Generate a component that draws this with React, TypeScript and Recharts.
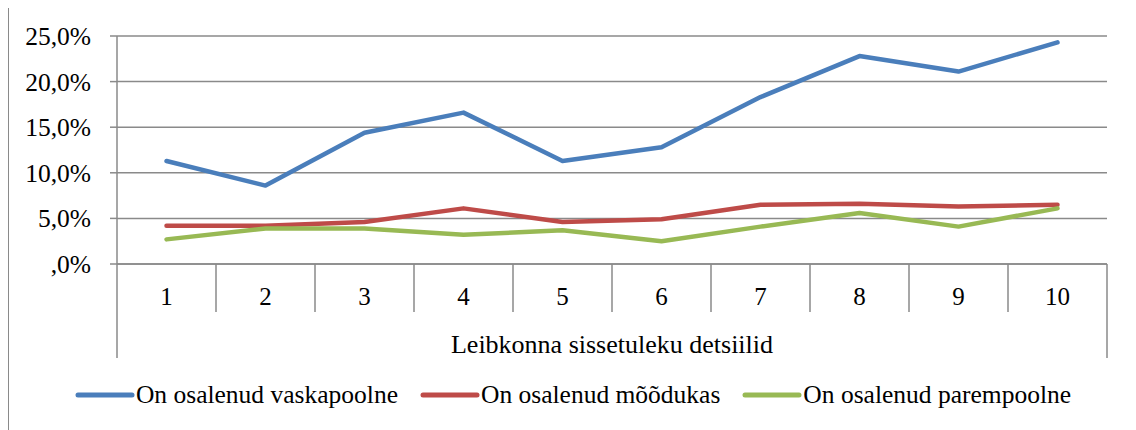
import React from 'react';
import { LineChart, Line, XAxis, YAxis, CartesianGrid, Legend } from 'recharts';

const deciles = ['1', '2', '3', '4', '5', '6', '7', '8', '9', '10'];
const leftParticipation = [11.3, 8.6, 14.4, 16.6, 11.3, 12.8, 18.3, 22.8, 21.1, 24.3];
const centreParticipation = [4.2, 4.2, 4.6, 6.1, 4.6, 4.9, 6.5, 6.6, 6.3, 6.5];
const rightParticipation = [2.7, 3.9, 3.9, 3.2, 3.7, 2.5, 4.1, 5.6, 4.1, 6.1];
const yTicks = [0, 5, 10, 15, 20, 25];
const seriesNames = ['On osalenud vaskapoolne', 'On osalenud mõõdukas', 'On osalenud parempoolne'];
const xAxisTitle = 'Leibkonna sissetuleku detsiilid';

const data = deciles.map((d, i) => ({
  decile: d,
  left: leftParticipation[i],
  centre: centreParticipation[i],
  right: rightParticipation[i],
}));

const FONT = '"Liberation Serif", "Times New Roman", serif';
const GRID = '#8a8a8a';

// Excel style percent: 0 -> ",0%", 5 -> "5,0%"
const formatPct = (v: number) => {
  const s = v.toFixed(1).replace('.', ',');
  return (s.startsWith('0,') ? s.slice(1) : s) + '%';
};

const DecileTick = (props: any) => {
  const { x, y, payload } = props;
  const idx = payload.index ?? props.index;
  const half = payload.offset || 49.5;
  const last = idx === deciles.length - 1;
  return (
    <g>
      <line x1={x - half} x2={x - half} y1={y} y2={y + (idx === 0 ? 94 : 48)} stroke={GRID} strokeWidth={1.5} />
      {last && <line x1={x + half} x2={x + half} y1={y} y2={y + 94} stroke={GRID} strokeWidth={1.5} />}
      <text x={x} y={y + 41} textAnchor="middle" fontFamily={FONT} fontSize={25} fill="#000">
        {payload.value}
      </text>
    </g>
  );
};

const renderLegend = (props: any) => {
  const items = [...(props.payload || [])].sort(
    (a: any, b: any) => seriesNames.indexOf(a.value) - seriesNames.indexOf(b.value)
  );
  return (
    <div
      style={{
        display: 'flex',
        justifyContent: 'center',
        alignItems: 'center',
        height: 62,
        paddingLeft: 30,
        fontFamily: FONT,
        fontSize: 25.5,
        color: '#000',
      }}
    >
      {items.map((entry: any, i: number) => (
        <div
          key={entry.value}
          style={{ display: 'flex', alignItems: 'center', marginRight: i < items.length - 1 ? 22 : 0 }}
        >
          <svg width={60} height={10} style={{ marginRight: 1 }}>
            <line x1={3} y1={5} x2={57} y2={5} stroke={entry.color} strokeWidth={5} strokeLinecap="round" />
          </svg>
          <span style={{ whiteSpace: 'nowrap' }}>{entry.value}</span>
        </div>
      ))}
    </div>
  );
};

export default function App() {
  return (
    <div
      style={{
        width: 1128,
        height: 430,
        marginTop: -1,
        border: '1px solid #8a8a8a',
        borderBottom: 'none',
        boxSizing: 'border-box',
        background: '#fff',
      }}
    >
      <LineChart width={1126} height={430} data={data} margin={{ top: 28, right: 28, left: 0, bottom: 5 }}>
        <CartesianGrid vertical={false} stroke={GRID} strokeWidth={1.5} />
        <XAxis
          dataKey="decile"
          scale="band"
          interval={0}
          height={100}
          tickSize={0}
          tickMargin={0}
          tickLine={false}
          axisLine={{ stroke: GRID, strokeWidth: 1.5 }}
          tick={<DecileTick />}
          label={{
            value: xAxisTitle,
            position: 'insideBottom',
            offset: 11,
            style: { fontFamily: FONT, fontSize: 26, fill: '#000' },
          }}
        />
        <YAxis
          width={108}
          domain={[0, 25]}
          ticks={yTicks}
          tickFormatter={formatPct}
          tickSize={7}
          tickMargin={19}
          axisLine={{ stroke: GRID, strokeWidth: 1.5 }}
          tickLine={{ stroke: GRID, strokeWidth: 1.5 }}
          tick={{ fontFamily: FONT, fontSize: 25.5, fill: '#000' }}
        />
        <Legend verticalAlign="bottom" height={69} content={renderLegend} />
        <Line dataKey="left" name={seriesNames[0]} stroke="#4a7ebb" strokeWidth={4.5} dot={false} strokeLinecap="round" strokeLinejoin="round" isAnimationActive={false} />
        <Line dataKey="centre" name={seriesNames[1]} stroke="#be4b48" strokeWidth={4.5} dot={false} strokeLinecap="round" strokeLinejoin="round" isAnimationActive={false} />
        <Line dataKey="right" name={seriesNames[2]} stroke="#98b954" strokeWidth={4.5} dot={false} strokeLinecap="round" strokeLinejoin="round" isAnimationActive={false} />
      </LineChart>
    </div>
  );
}
